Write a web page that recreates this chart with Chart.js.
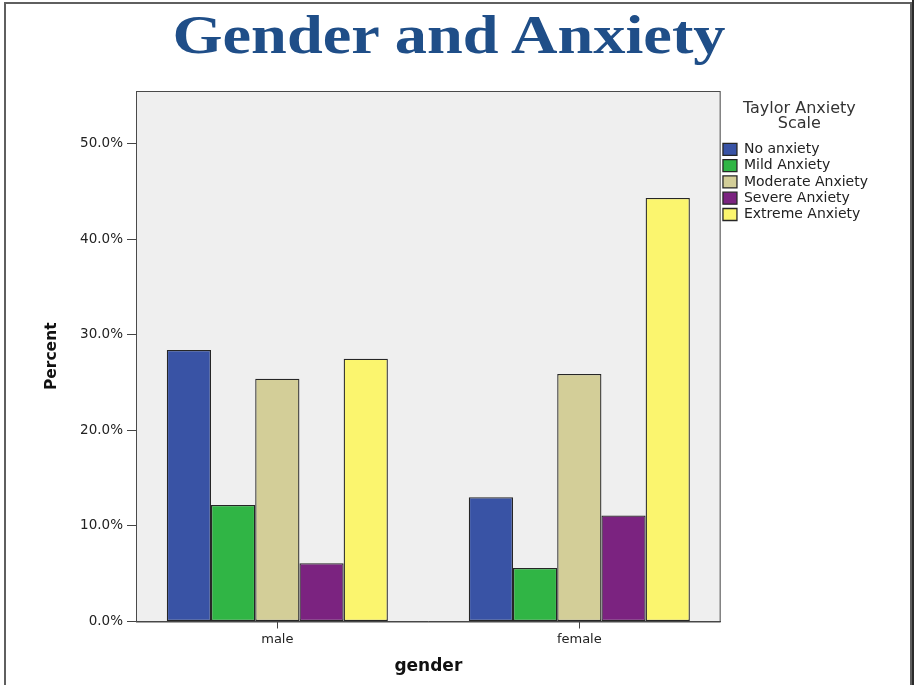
<!DOCTYPE html>
<html>
<head>
<meta charset="utf-8">
<title>Gender and Anxiety</title>
<script src="https://cdn.jsdelivr.net/npm/chart.js@4"></script>
<style>
    html, body { margin:0; padding:0; background:#fff; }
    body { width:914px; height:685px; position:relative; overflow:hidden; }
    #frame { position:absolute; left:4px; top:2px; width:908px; height:720px; box-sizing:border-box; border:2px solid #5f5f5f; border-bottom:none; }
    #edge { position:absolute; left:912px; top:0; width:2px; height:685px; background:#2b2b2b; }
    #title { position:absolute; left:0; top:7px; width:898px; text-align:center; font-family:"Liberation Serif", serif; font-weight:bold; font-size:55px; line-height:1; color:#1f4e88; transform:scaleX(1.17); }
    canvas { position:absolute; left:0; top:0; }
</style>
</head>
<body>
<div id="frame"></div>
<div id="edge"></div>
<canvas id="anxietyChart" width="914" height="685"></canvas>
<div id="title">Gender and Anxiety</div>
<script>

// ======================================
// DATA
// ======================================

const genders = ["male", "female"];

const levels = [
    "No anxiety",
    "Mild Anxiety",
    "Moderate Anxiety",
    "Severe Anxiety",
    "Extreme Anxiety"
];

const noAnxiety       = [28.4, 13.0];
const mildAnxiety     = [12.2,  5.6];
const moderateAnxiety = [25.4, 25.9];
const severeAnxiety   = [ 6.1, 11.1];
const extremeAnxiety  = [27.5, 44.3];

const yTicks = [0, 10, 20, 30, 40, 50];

const colors = ["#3953a5", "#30b545", "#d3ce98", "#7b2380", "#fbf56e"];

const series = [noAnxiety, mildAnxiety, moderateAnxiety, severeAnxiety, extremeAnxiety];

// ======================================
// PLOT BACKGROUND + FRAME
// ======================================

const plotFrame = {

    id:"plotFrame",

    beforeDraw(chart){
        const a = chart.chartArea;
        const ctx = chart.ctx;
        ctx.save();
        ctx.fillStyle = "#efefef";
        ctx.fillRect(a.left, a.top, a.right - a.left, a.bottom - a.top);
        ctx.restore();
    },

    afterDatasetsDraw(chart){
        const a = chart.chartArea;
        const ctx = chart.ctx;
        ctx.save();
        ctx.strokeStyle = "#4a4a4a";
        ctx.lineWidth = 1;
        ctx.strokeRect(a.left + 0.5, a.top + 0.5, a.right - a.left - 1, a.bottom - a.top);
        ctx.restore();
    }

};

// ======================================
// CHART
// ======================================

const font = "DejaVu Sans";

new Chart(

    document.getElementById("anxietyChart"),

    {

        type:"bar",

        data:{
            datasets: levels.map((name, k) => ({
                label:name,
                data: genders.map((g, i) => ({ x:i, y:series[k][i] })),
                backgroundColor:colors[k],
                borderColor:"#262626",
                borderWidth:1.3,
                borderSkipped:false
            }))
        },

        options:{

            responsive:false,
            animation:false,

            categoryPercentage:0.732,
            barPercentage:1.0,

            layout:{
                padding:{ top:91, left:0, right:36, bottom:0 }
            },

            plugins:{

                tooltip:{ enabled:false },

                legend:{
                    position:"right",
                    align:"start",
                    labels:{
                        boxWidth:14,
                        boxHeight:12,
                        padding:2.3,
                        color:"#222",
                        font:{ family:font, size:14 }
                    },
                    title:{
                        display:true,
                        text:["Taylor Anxiety", "Scale"],
                        color:"#333",
                        padding:{ top:10, bottom:23.8 },
                        font:{ family:font, size:16, lineHeight:0.95 }
                    }
                }

            },

            scales:{

                x:{
                    type:"linear",
                    min:-0.468,
                    max:1.468,
                    offset:false,
                    afterFit(scale){ scale.height = 63.5; },
                    afterBuildTicks(scale){
                        scale.ticks = genders.map((g, i) => ({ value:i }));
                    },
                    grid:{
                        drawOnChartArea:false,
                        offset:false,
                        tickLength:7,
                        color:"#444"
                    },
                    border:{ color:"#444" },
                    ticks:{
                        padding:3,
                        color:"#222",
                        font:{ family:font, size:13 },
                        callback:(v) => genders[v]
                    },
                    title:{
                        display:true,
                        text:"gender",
                        color:"#111",
                        padding:{ top:0, bottom:7.8 },
                        font:{ family:font, size:17, weight:"bold" }
                    }
                },

                y:{
                    min:0,
                    max:55.5,
                    afterFit(scale){ scale.width = 136; },
                    afterBuildTicks(scale){
                        scale.ticks = yTicks.map(v => ({ value:v }));
                    },
                    grid:{
                        drawOnChartArea:false,
                        tickLength:9,
                        color:"#444"
                    },
                    border:{ color:"#444" },
                    ticks:{
                        padding:4,
                        color:"#222",
                        font:{ family:font, size:13.5 },
                        callback:(v) => v.toFixed(1) + "%"
                    },
                    title:{
                        display:true,
                        text:"Percent",
                        color:"#111",
                        padding:{ top:42.7, bottom:0 },
                        font:{ family:font, size:15.5, weight:"bold" }
                    }
                }

            }

        },

        plugins:[plotFrame]

    }

);

</script>
</body>
</html>
